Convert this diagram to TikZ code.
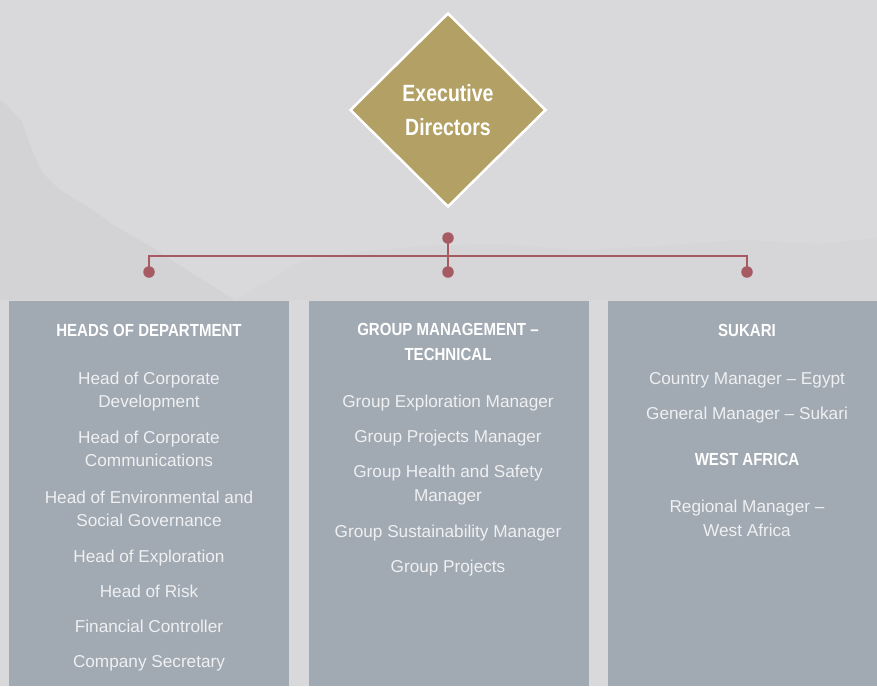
\documentclass[tikz,border=0pt]{standalone}
\usepackage{fontspec}
\setmainfont{Liberation Sans}
\newfontfamily\itemfont{Liberation Sans}
\newfontfamily\titlefont[FakeStretch=0.86]{Liberation Sans}
\newfontfamily\diafont[FakeStretch=0.83]{Liberation Sans}
\usetikzlibrary{shapes.geometric}
\definecolor{bgc}{HTML}{D9D8DB}
\definecolor{hillc}{HTML}{D3D2D4}
\definecolor{boxc}{HTML}{A1A9B2}
\definecolor{goldc}{HTML}{B3A064}
\definecolor{linkc}{HTML}{A65A62}
\definecolor{itemc}{HTML}{EEF0F2}
\tikzset{
  panel/.style={anchor=north west, fill=boxc, inner sep=0pt, minimum height=385pt},
  ttl/.style={font=\titlefont\bfseries\fontsize{17.5}{24.7}\selectfont, text=white, inner sep=0pt, align=center},
  itm/.style={font=\itemfont\fontsize{17.2}{23.8}\selectfont, text=itemc, inner sep=0pt, align=center},
  dotnode/.style={circle, fill=linkc, inner sep=0pt, minimum size=11.5pt},
  link/.style={draw=linkc, line width=2.8pt},
  execbox/.style={diamond, fill=goldc, draw=white, line width=2.5pt, minimum width=196pt, minimum height=194pt, inner sep=0pt,
    font=\diafont\bfseries\fontsize{23.5}{34.3}\selectfont, text=white, align=center}
}
\begin{document}
\begin{tikzpicture}[x=1pt,y=-1pt]
\useasboundingbox (0,0) rectangle (877,686);
\fill[bgc] (0,0) rectangle (877,686);
% faint mountain silhouettes
\fill[hillc] (0,100) -- (8,106) -- (22,122) -- (32,150) -- (42,172) -- (60,190) -- (90,208) -- (115,226) -- (150,246) -- (190,272) -- (235,300) -- (0,300) -- cycle;
\fill[hillc!50!bgc] (235,300) -- (300,262) -- (360,252) -- (420,246) -- (500,244) -- (580,250) -- (660,246) -- (740,240) -- (820,244) -- (877,238) -- (877,300) -- cycle;

% top node
\node[execbox] (exec) at (448,110) {Executive\\Directors};

% panels
\node[panel, minimum width=280pt] (hod) at (9,301) {};
\node[panel, minimum width=280pt] (gmt) at (309,301) {};
\node[panel, minimum width=269pt] (suk) at (608,301) {};

% connector
\node[dotnode] (dtop) at (448,238) {};
\node[dotnode] (dl) at (149,272) {};
\node[dotnode] (dm) at (448,272) {};
\node[dotnode] (dr) at (747,272) {};
\path[link] (dtop.center) -- (dm.center);
\path[link] (dl.center) -- ++(0,-16) -| (dr.center);

% left panel
\node[ttl, anchor=base] (t1) at (149,336) {HEADS OF DEPARTMENT};
\node[itm] (l1) at (149,391.5) {Head of Corporate\\Development};
\node[itm] (l2) at (149,448.8) {Head of Corporate\\Communications};
\node[itm] (l3) at (149,508.8) {Head of Environmental and\\Social Governance};
\node[itm, anchor=base] (l4) at (149,562) {Head of Exploration};
\node[itm, anchor=base] (l5) at (149,597) {Head of Risk};
\node[itm, anchor=base] (l6) at (149,632) {Financial Controller};
\node[itm, anchor=base] (l7) at (149,667) {Company Secretary};

% middle panel
\node[ttl] (t2) at (448,342.3) {GROUP MANAGEMENT –\\TECHNICAL};
\node[itm, anchor=base] (m1) at (448,407.7) {Group Exploration Manager};
\node[itm, anchor=base] (m2) at (448,442.7) {Group Projects Manager};
\node[itm] (m3) at (448,485.3) {Group Health and Safety\\Manager};
\node[itm, anchor=base] (m4) at (448,537.7) {Group Sustainability Manager};
\node[itm, anchor=base] (m5) at (448,572.7) {Group Projects};

% right panel
\node[ttl, anchor=base] (t3) at (747,336) {SUKARI};
\node[itm, anchor=base] (r1) at (747,384) {Country Manager – Egypt};
\node[itm, anchor=base] (r2) at (747,419.3) {General Manager – Sukari};
\node[ttl, anchor=base] (t4) at (747,465.3) {WEST AFRICA};
\node[itm] (r3) at (747,518.5) {Regional Manager –\\West Africa};
\end{tikzpicture}
\end{document}
